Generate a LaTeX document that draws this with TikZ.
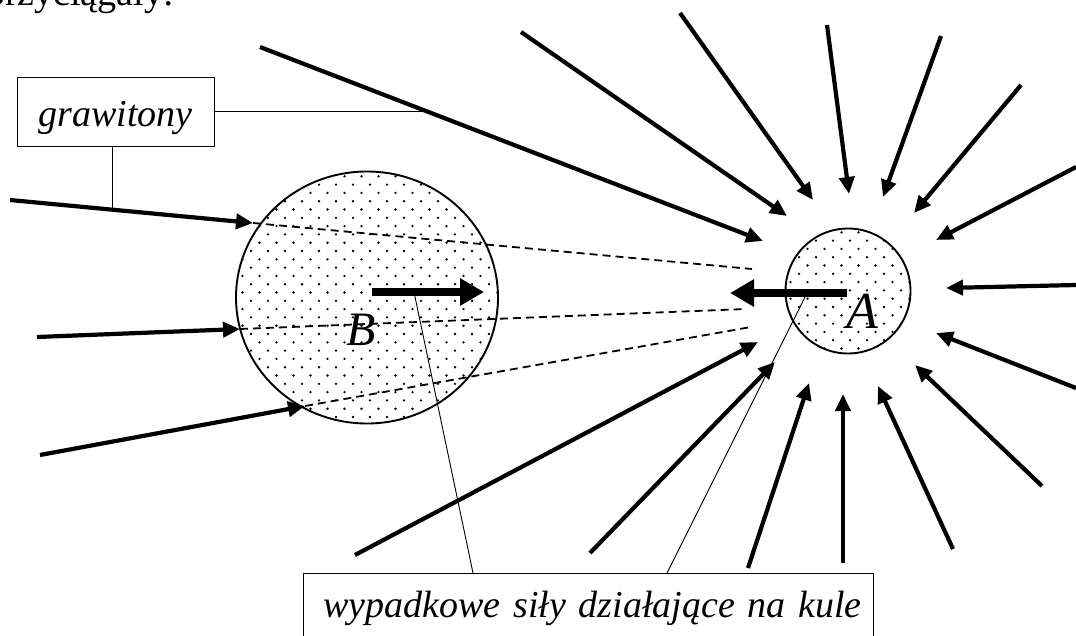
\documentclass[tikz,border=0pt]{standalone}
\usepackage{fontspec}
\setmainfont{Liberation Serif}
\usetikzlibrary{arrows.meta,shapes.geometric,calc}
\begin{document}
\begin{tikzpicture}[x=1pt,y=-1pt,
  grav/.style={line width=4.2pt,-{Triangle[length=17pt,width=15pt]}},
  force/.style={line width=8pt,-{Triangle[length=24pt,width=26pt]}},
  ray/.style={line width=1.8pt,dash pattern=on 8pt off 5pt},
  leader/.style={line width=0.9pt},
  ball/.style={draw,line width=1.9pt,inner sep=0pt},
  labelbox/.style={draw,line width=0.9pt,inner sep=0pt,font=\fontsize{38}{44}\selectfont\itshape},
  dotstyle/.style={fill=black}
]
\useasboundingbox (0,0) rectangle (1076,635);
\clip (0,0) rectangle (1076,635);

% title line (cut off at top, as in the reference)
\node[anchor=base east,inner sep=0pt,font=\fontsize{38}{44}\selectfont] (title) at (174,5) {przyciągały:};

% dotted fill of B
\begin{scope}
  \clip (367,297.5) ellipse [x radius=131, y radius=126];
  \foreach \j in {0,...,16}{\foreach \k in {0,...,16}{
    \fill[dotstyle] (234+17*\k,168+16.6*\j) circle [radius=1.3];
    \fill[dotstyle] (242.5+17*\k,176.3+16.6*\j) circle [radius=1.3];}}
\end{scope}
% dotted fill of A
\begin{scope}
  \clip (848,291) circle [radius=62.5];
  \foreach \j in {0,...,8}{\foreach \k in {0,...,8}{
    \fill[dotstyle] (782+17*\k,224+16.6*\j) circle [radius=1.3];
    \fill[dotstyle] (790.5+17*\k,232.3+16.6*\j) circle [radius=1.3];}}
\end{scope}

\node[ball,ellipse,minimum width=262pt,minimum height=252pt] (B) at (367,297.5) {};
\node[ball,circle,minimum size=125pt] (A) at (848,291) {};

% graviton arrows
\foreach \n/\sx/\sy/\ex/\ey in {
  L1/10/200/253/223, L2/37/337/240/329, L3/40/455/305/406,
  T1/260/47/763/241, T2/521/32/787/216, T3/680/13/813/200,
  T4/827/25/849/194, T5/941/36/883/197, T6/1021/85/914/213,
  T7/1076/167/936/240, R1/1076/285/946/288, R2/1076/388/936/333,
  R3/1042/486/915/365, D1/953/549/878/386, D2/843/563/843/394,
  D3/748/568/809/383, D4/590/553/775/362, D5/355/555/758/342}{
  \coordinate (s\n) at (\sx,\sy);
  \coordinate (e\n) at (\ex,\ey);
  \draw[grav] (s\n) -- (e\n);
}

% shadow rays
\coordinate (r1) at (752,269);
\coordinate (r2) at (746,309);
\coordinate (r3) at (751,327);
\draw[ray] (eL1) -- (r1);
\draw[ray] (eL2) -- (r2);
\draw[ray] (eL3) -- (r3);

% label grawitony
\node[labelbox,minimum width=197pt,minimum height=69pt,text height=37pt,text depth=8pt] (gr) at (115.5,111.5) {grawitony};
\coordinate (g1) at ($(sT1)!0.3325!(eT1)$);
\coordinate (g2) at ($(sL1)!0.42!(eL1)$);
\draw[leader] (gr.east) -- (gr.east -| g1);
\draw[leader] (gr.south -| g2) -- (g2);

% label resultant forces
\node[labelbox,anchor=north west,text width=570pt,align=left,text height=44pt,text depth=30pt] (wyp) at (303,573) {\hspace*{20pt}wypadkowe siły działające na kule};
\coordinate (lb) at (414,292);
\coordinate (la) at (807,293);
\draw[leader] ($(wyp.north west)+(170,0)$) -- (lb);
\draw[leader] ($(wyp.north west)+(364,0)$) -- (la);

% resultant forces
\coordinate (fB1) at (372,292);
\coordinate (fB2) at (484,292);
\coordinate (fA1) at (847,293);
\coordinate (fA2) at (730,293);
\draw[force] (fB1) -- (fB2);
\draw[force] (fA1) -- (fA2);

% sphere labels
\node[anchor=base west,inner sep=0pt,font=\fontsize{48}{50}\selectfont\itshape] (labB) at (346,345) {B};
\node[anchor=base west,inner sep=0pt,font=\fontsize{52}{54}\selectfont\itshape] (labA) at (846,328) {A};
\end{tikzpicture}
\end{document}
